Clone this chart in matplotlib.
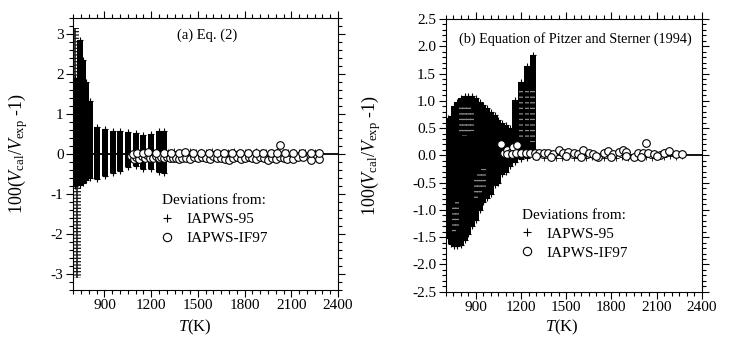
import matplotlib
matplotlib.use('Agg')
import matplotlib.pyplot as plt
from matplotlib.lines import Line2D
from matplotlib.ticker import MultipleLocator, FuncFormatter

plt.rcParams['font.family'] = 'Liberation Serif'
plt.rcParams['mathtext.fontset'] = 'custom'
plt.rcParams['mathtext.rm'] = 'Liberation Serif'
plt.rcParams['mathtext.it'] = 'Liberation Serif:italic'
plt.rcParams['hatch.linewidth'] = 0.9

# ---- panel (a) : Eq. (2) ----
# dense columns of IAPWS-95 deviations (one column per isotherm)
a_col_T = [712, 740, 764, 783, 804, 854, 904, 952, 1002, 1050, 1101, 1149, 1199, 1250, 1280]
a_col_lo = [-0.82, -0.78, -0.72, -0.66, -0.60, -0.64, -0.56, -0.48, -0.42, -0.34, -0.31, -0.37, -0.39, -0.46, -0.48]
a_col_hi = [1.90, 2.85, 2.35, 1.80, 1.32, 0.67, 0.63, 0.58, 0.58, 0.54, 0.52, 0.48, 0.50, 0.57, 0.57]
# sparse tails of the low-T isotherms
a_tail_T = [712, 726]
a_tail_lo = [1.90, -3.10]
a_tail_hi = [3.15, -0.82]
# IAPWS-95 points at high T
a_plus_T = [1310, 1345, 1380, 1415, 1450, 1485, 1520, 1555, 1590, 1625, 1660, 1695, 1730, 1765,
            1800, 1835, 1870, 1905, 1940, 1975, 2010, 2045, 2080, 2115, 2150, 2185, 2220, 2255, 2280]
a_plus_v = [0.05, 0.06, 0.04, 0.05, 0.06, 0.05, 0.04, 0.05, 0.06, 0.05, 0.04, 0.05, 0.06, 0.05,
            0.04, 0.05, 0.06, 0.05, 0.04, 0.05, 0.06, 0.05, 0.04, 0.05, 0.05, 0.04, 0.05, 0.04, 0.05]
# IAPWS-IF97 deviations
a_circ_T = [1072, 1088, 1105, 1122, 1140, 1158, 1176, 1195, 1212, 1230, 1248, 1266, 1284, 1300,
            1320, 1340, 1360, 1380, 1400, 1425, 1450, 1475, 1500, 1525, 1550, 1575, 1600, 1625,
            1650, 1675, 1700, 1725, 1750, 1775, 1800, 1825, 1850, 1875, 1900, 1925, 1950, 1975,
            2000, 2025, 2050, 2075, 2110, 2140, 2175, 2225, 2275,
            1080, 1110, 1145, 1180, 1230, 1280, 1330, 1380, 1420, 1470, 1520, 1570, 1620, 1670,
            1720, 1770, 1820, 1870, 1920, 1970, 2010, 2025, 2060, 2110, 2170, 2225, 2275]
a_circ_v = [-0.05, -0.12, -0.08, -0.12, -0.05, -0.10, -0.04, -0.10, -0.10, -0.06, -0.10, -0.08,
            -0.10, -0.08, -0.10, -0.10, -0.10, -0.12, -0.10, -0.10, -0.14, -0.08, -0.10, -0.08,
            -0.10, -0.13, -0.06, -0.10, -0.10, -0.12, -0.15, -0.10, -0.08, -0.14, -0.10, -0.08,
            -0.10, -0.12, -0.08, -0.10, -0.15, -0.10, -0.12, -0.08, -0.10, -0.12, -0.12, -0.08,
            -0.09, -0.15, -0.12,
            0.00, 0.03, 0.01, 0.04, 0.02, 0.01, 0.02, 0.03, 0.04, 0.01, 0.02, 0.01, 0.03, 0.02,
            0.01, 0.02, 0.03, 0.01, 0.02, 0.01, 0.03, 0.22, 0.01, 0.02, 0.01, 0.02, 0.02]

# ---- panel (b) : Pitzer and Sterner (1994) ----
b_col_T = [712, 735, 755, 775, 800, 825, 850, 875, 900, 925, 950, 975, 1000, 1025, 1050,
           1075, 1100, 1125, 1160, 1200, 1240, 1278]
b_col_lo = [-1.52, -1.62, -1.67, -1.67, -1.65, -1.55, -1.45, -1.30, -1.19, -1.00, -0.85, -0.78,
            -0.70, -0.55, -0.50, -0.35, -0.30, -0.20, -0.12, -0.06, -0.04, -0.02]
b_col_hi = [0.68, 0.72, 0.90, 0.98, 1.05, 1.09, 1.09, 1.08, 1.05, 0.98, 0.92, 0.86, 0.80, 0.74,
            0.65, 0.60, 0.55, 0.50, 1.01, 1.35, 1.63, 1.84]
# less dense parts inside the columns
b_hat_T = [755, 775, 800, 825, 850, 875, 900, 925, 950, 1200, 1240, 1278]
b_hat_lo = [-1.45, -1.30, 0.40, 0.35, 0.40, 0.45, -0.85, -0.70, -0.60, 0.30, 0.30, 0.25]
b_hat_hi = [-0.90, -0.85, 0.90, 0.95, 0.90, 0.80, -0.45, -0.30, -0.25, 1.20, 1.25, 1.20]
b_plus_T = [1310, 1350, 1390, 1430, 1470, 1510, 1550, 1590, 1630, 1670, 1710, 1750, 1790, 1830,
            1870, 1910, 1950, 1990, 2030, 2070, 2110, 2150, 2190, 2230, 2270]
b_plus_v = [-0.03, -0.05, -0.02, -0.04, -0.05, -0.03, -0.04, -0.02, -0.05, -0.03, -0.04, -0.05,
            -0.02, -0.04, -0.03, -0.05, -0.04, -0.02, -0.03, -0.04, -0.02, -0.03, -0.02, -0.03, -0.02]
b_circ_T = [1070, 1090, 1110, 1130, 1150, 1175, 1110, 1140, 1170, 1200, 1230, 1260, 1290, 1320,
            1350, 1380, 1410, 1450, 1480, 1510, 1550, 1580, 1610, 1650, 1680, 1710, 1750, 1780,
            1810, 1850, 1875, 1900, 1950, 1980, 2010, 2030, 2045, 2080, 2120, 2150, 2180, 2230, 2270,
            1300, 1400, 1500, 1600, 1700, 1800, 1900, 2000, 2100]
b_circ_v = [0.20, 0.05, 0.10, 0.05, 0.15, 0.19, 0.02, 0.03, 0.04, 0.05, 0.05, 0.04, 0.05, 0.05,
            0.04, 0.05, 0.03, 0.10, 0.05, 0.07, 0.05, 0.03, 0.10, 0.05, 0.03, -0.03, 0.05, 0.08,
            0.03, 0.07, 0.10, 0.07, -0.03, 0.05, 0.05, 0.22, 0.05, 0.03, 0.00, 0.05, 0.08, 0.02, 0.02,
            -0.02, -0.03, -0.02, -0.03, -0.02, -0.03, -0.02, -0.03, -0.02]


def fmt_int(v, pos):
    return '%d' % round(v)


def fmt_1(v, pos):
    return '%.1f' % v


fig = plt.figure(figsize=(7.43, 3.51), dpi=100)
ax_a = fig.add_axes([0.0987, 0.1752, 0.3563, 0.7735])
ax_b = fig.add_axes([0.5999, 0.1690, 0.3445, 0.7769])

for ax in [ax_a, ax_b]:
    ax.set_xlim(700, 2400)
    ax.xaxis.set_major_locator(MultipleLocator(300))
    ax.xaxis.set_minor_locator(MultipleLocator(50))
    ax.tick_params(which='both', direction='out', top=True, right=True, labelsize=11, pad=2,
                   width=0.8)
    ax.tick_params(which='major', length=5)
    ax.tick_params(which='minor', length=3)
    ax.axhline(0, color='k', lw=1.3, zorder=1)
    ax.set_xlabel('$T$(K)', fontsize=12)
    ax.set_ylabel(r'100($V_{\rm cal}$/$V_{\rm exp}$ -1)', fontsize=13)

# panel (a)
ax_a.set_ylim(-3.4, 3.4)
ax_a.yaxis.set_major_locator(MultipleLocator(1))
ax_a.yaxis.set_minor_locator(MultipleLocator(0.2))
ax_a.yaxis.set_major_formatter(FuncFormatter(fmt_int))
heights = [h - l for h, l in zip(a_tail_hi, a_tail_lo)]
ax_a.bar(a_tail_T, heights, bottom=a_tail_lo, width=44, fill=False, hatch='-----',
         edgecolor='#1a1a1a', linewidth=0, zorder=2)
ax_a.vlines(a_tail_T, a_tail_lo, a_tail_hi, color='#1a1a1a', lw=1.2, zorder=2)
heights = [h - l for h, l in zip(a_col_hi, a_col_lo)]
ax_a.bar(a_col_T, heights, bottom=a_col_lo, width=38.5, color='k', linewidth=0, zorder=2)
ax_a.plot(a_col_T, a_col_hi, '+', color='k', ms=5, mew=0.8, zorder=2)
ax_a.plot(a_col_T, a_col_lo, '+', color='k', ms=5, mew=0.8, zorder=2)
ax_a.plot(a_plus_T, a_plus_v, '+', color='k', ms=4, mew=0.6, zorder=2)
ax_a.plot(a_circ_T, a_circ_v, 'o', mfc='white', mec='k', ms=5.5, mew=0.8, zorder=3)
ax_a.text(0.504, 0.937, '(a) Eq. (2)', transform=ax_a.transAxes, ha='center', va='center',
          fontsize=10.5)
ax_a.yaxis.set_label_coords(-0.163, 0.5)
ax_a.xaxis.set_label_coords(0.46, -0.105)

# panel (b)
ax_b.set_ylim(-2.5, 2.5)
ax_b.yaxis.set_major_locator(MultipleLocator(0.5))
ax_b.yaxis.set_minor_locator(MultipleLocator(0.1))
ax_b.yaxis.set_major_formatter(FuncFormatter(fmt_1))
heights = [h - l for h, l in zip(b_col_hi, b_col_lo)]
ax_b.bar(b_col_T, heights, bottom=b_col_lo, width=40, color='k', linewidth=0, zorder=2)
heights = [h - l for h, l in zip(b_hat_hi, b_hat_lo)]
ax_b.bar(b_hat_T, heights, bottom=b_hat_lo, width=30, fill=False, hatch='---',
         edgecolor='#8a8a8a', linewidth=0, zorder=2)
ax_b.plot(b_col_T, b_col_hi, '+', color='k', ms=5, mew=0.8, zorder=2)
ax_b.plot(b_col_T, b_col_lo, '+', color='k', ms=5, mew=0.8, zorder=2)
ax_b.plot(b_plus_T, b_plus_v, '+', color='k', ms=4, mew=0.6, zorder=2)
ax_b.plot(b_circ_T, b_circ_v, 'o', mfc='white', mec='k', ms=5.5, mew=0.8, zorder=3)
ax_b.text(0.505, 0.926, '(b) Equation of Pitzer and Sterner (1994)', transform=ax_b.transAxes,
          ha='center', va='center', fontsize=10.2)
ax_b.yaxis.set_label_coords(-0.244, 0.5)
ax_b.xaxis.set_label_coords(0.453, -0.096)

# legends
handles = [Line2D([], [], marker='+', color='k', ls='none', ms=6, mew=0.8),
           Line2D([], [], marker='o', mfc='white', mec='k', ls='none', ms=6, mew=0.8)]
labels = ['IAPWS-95', 'IAPWS-IF97']
for ax, pos in [(ax_a, (0.335, 0.352)), (ax_b, (0.297, 0.305))]:
    ax.legend(handles, labels, title='Deviations from:', loc='upper left', bbox_to_anchor=pos,
              frameon=False, fontsize=11, title_fontsize=11, alignment='left', borderpad=0,
              borderaxespad=0, handlelength=0.7, handletextpad=0.9, labelspacing=0.35)

fig.savefig('out.png', dpi=100)
